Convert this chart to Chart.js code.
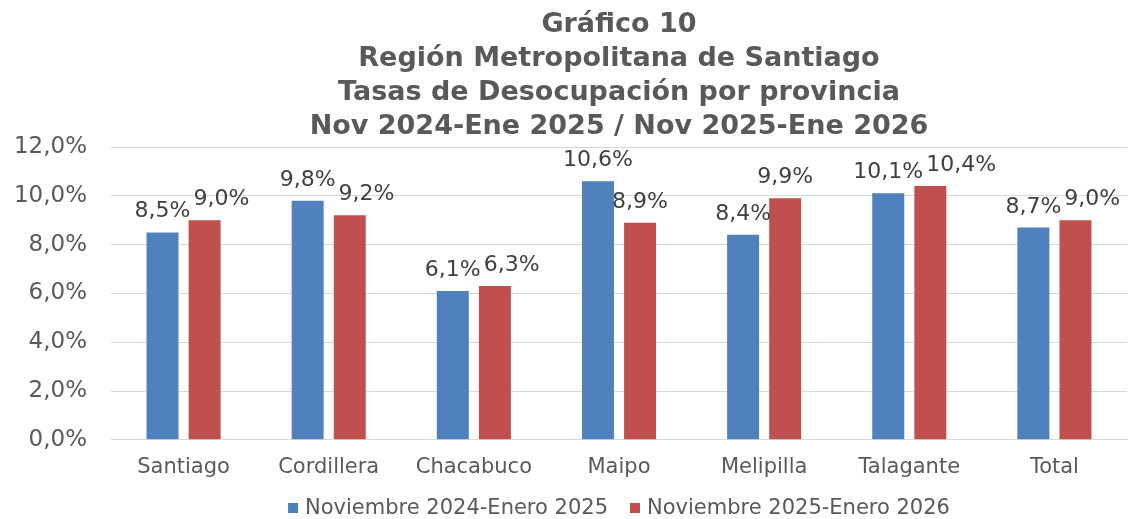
<!DOCTYPE html>
<html>
<head>
<meta charset="utf-8">
<script src="https://cdn.jsdelivr.net/npm/chart.js@4/dist/chart.umd.min.js"></script>
<style>
  body { margin: 0; background: #fff; }
</style>
</head>
<body>
<canvas id="grafico" width="1133" height="519"></canvas>
<script>
const categorias = ["Santiago", "Cordillera", "Chacabuco", "Maipo", "Melipilla", "Talagante", "Total"];
const periodo2025 = [8.5, 9.8, 6.1, 10.6, 8.4, 10.1, 8.7];
const periodo2026 = [9.0, 9.2, 6.3, 8.9, 9.9, 10.4, 9.0];
const nombresSeries = ["Noviembre 2024-Enero 2025", "Noviembre 2025-Enero 2026"];
const titulo = [
    "Gráfico 10",
    "Región Metropolitana de Santiago",
    "Tasas de Desocupación por provincia",
    "Nov 2024-Ene 2025 / Nov 2025-Ene 2026"
];
const yMin = 0, yMax = 12, yPaso = 2;

const colores = ["#4F81BD", "#C0504D"];
const gris = "#595959";

function formato(v) {
    return v.toFixed(1).replace(".", ",") + "%";
}

// título y leyenda dibujados centrados sobre el área del gráfico
const tituloPlugin = {
    id: "tituloPlugin",
    afterDraw(chart) {
        const ctx = chart.ctx;
        const area = chart.chartArea;
        const cx = (area.left + area.right) / 2;
        ctx.save();
        ctx.fillStyle = gris;
        ctx.font = "bold 27px 'DejaVu Sans'";
        ctx.textAlign = "center";
        ctx.textBaseline = "alphabetic";
        titulo.forEach((linea, i) => {
            ctx.fillText(linea, cx, 32 + i * 34);
        });

        // leyenda
        ctx.font = "21px 'DejaVu Sans'";
        const caja = 10, sep = 7, entre = 22;
        const anchos = nombresSeries.map(t => ctx.measureText(t).width);
        let total = 0;
        anchos.forEach((w, i) => { total += caja + sep + w + (i > 0 ? entre : 0); });
        let x = cx - total / 2;
        const y = 508;
        ctx.textAlign = "left";
        ctx.textBaseline = "middle";
        nombresSeries.forEach((t, i) => {
            if (i > 0) x += entre;
            ctx.fillStyle = colores[i];
            ctx.fillRect(x, y - caja / 2, caja, caja);
            x += caja + sep;
            ctx.fillStyle = gris;
            ctx.fillText(t, x, y + 1);
            x += anchos[i];
        });
        ctx.restore();
    }
};

// etiquetas de datos sobre las barras
const etiquetasPlugin = {
    id: "etiquetasPlugin",
    afterDatasetsDraw(chart) {
        const ctx = chart.ctx;
        ctx.save();
        ctx.font = "22px 'DejaVu Sans'";
        ctx.fillStyle = "#404040";
        ctx.textBaseline = "alphabetic";
        ctx.textAlign = "left";
        const m0 = chart.getDatasetMeta(0).data;
        const m1 = chart.getDatasetMeta(1).data;
        categorias.forEach((c, i) => {
            const t0 = formato(periodo2025[i]);
            const t1 = formato(periodo2026[i]);
            const w0 = ctx.measureText(t0).width;
            const w1 = ctx.measureText(t1).width;
            const b0 = m0[i], b1 = m1[i];
            const x0 = b0.x - w0 / 2;
            const y0 = b0.y - 15;
            let x1 = b1.x - w1 / 2;
            const y1 = b1.y - 15;
            if (Math.abs(y0 - y1) < 22 && x1 < x0 + w0 + 3) {
                x1 = x0 + w0 + 3;
            }
            ctx.fillText(t0, x0, y0);
            ctx.fillText(t1, x1, y1);
        });
        ctx.restore();
    }
};

const ctx = document.getElementById("grafico").getContext("2d");
new Chart(ctx, {
    type: "bar",
    data: {
        labels: categorias,
        datasets: [
            { label: nombresSeries[0], data: periodo2025, backgroundColor: colores[0] },
            { label: nombresSeries[1], data: periodo2026, backgroundColor: colores[1] }
        ]
    },
    options: {
        responsive: false,
        animation: false,
        devicePixelRatio: 1,
        layout: { padding: { top: 147, bottom: 24, left: 0, right: 6 } },
        datasets: {
            bar: { categoryPercentage: 0.58, barPercentage: 0.76 }
        },
        scales: {
            x: {
                grid: { display: false, drawTicks: false },
                border: { color: "#d9d9d9", width: 1 },
                ticks: { color: gris, font: { family: "DejaVu Sans", size: 21 }, padding: 15 }
            },
            y: {
                min: yMin,
                max: yMax,
                grid: { color: "#d9d9d9", drawTicks: false },
                border: { display: false },
                ticks: {
                    stepSize: yPaso,
                    color: gris,
                    font: { family: "DejaVu Sans", size: 23 },
                    padding: 24,
                    callback: v => formato(v)
                },
                afterFit(scale) { scale.width = 111; }
            }
        },
        plugins: {
            legend: { display: false },
            title: { display: false },
            tooltip: { enabled: false }
        }
    },
    plugins: [etiquetasPlugin, tituloPlugin]
});
</script>
</body>
</html>
